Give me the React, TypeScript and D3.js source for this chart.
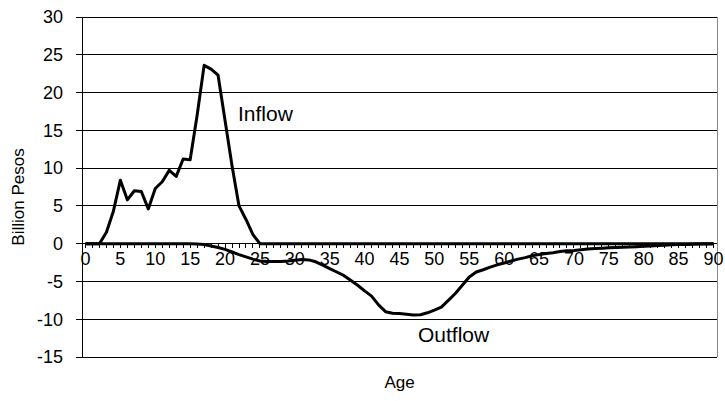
import React from "react";
import * as d3 from "d3";

const ages: number[] = d3.range(0, 91);

const inflow: number[] = [
  0, 0, 0, 1.5, 4.3, 8.4, 5.8, 7.0, 6.9, 4.6,
  7.3, 8.2, 9.7, 8.9, 11.2, 11.1, 17.0, 23.6, 23.1, 22.3,
  16.3, 10.3, 5.0, 3.2, 1.2, 0, 0, 0, 0, 0,
  0, 0, 0, 0, 0, 0, 0, 0, 0, 0,
  0, 0, 0, 0, 0, 0, 0, 0, 0, 0,
  0, 0, 0, 0, 0, 0, 0, 0, 0, 0,
  0, 0, 0, 0, 0, 0, 0, 0, 0, 0,
  0, 0, 0, 0, 0, 0, 0, 0, 0, 0,
  0, 0, 0, 0, 0, 0, 0, 0, 0, 0,
  0,
];

const outflow: number[] = [
  0, 0, 0, 0, 0, 0, 0, 0, 0, 0,
  0, 0, 0, 0, 0, 0, -0.05, -0.1, -0.3, -0.5,
  -0.75, -1.1, -1.45, -1.75, -2.05, -2.3, -2.35, -2.35, -2.35, -2.3,
  -2.2, -2.1, -2.15, -2.4, -2.85, -3.3, -3.75, -4.2, -4.85, -5.5,
  -6.25, -6.95, -8.1, -9.0, -9.2, -9.25, -9.35, -9.45, -9.4, -9.15,
  -8.8, -8.4, -7.5, -6.6, -5.5, -4.4, -3.75, -3.45, -3.1, -2.8,
  -2.55, -2.3, -2.05, -1.85, -1.6, -1.45, -1.3, -1.2, -1.05, -0.95,
  -0.9, -0.8, -0.7, -0.65, -0.6, -0.55, -0.5, -0.48, -0.45, -0.4,
  -0.35, -0.3, -0.25, -0.2, -0.15, -0.12, -0.1, -0.08, -0.05, -0.03,
  -0.02,
];

const yTicks: number[] = [-15, -10, -5, 0, 5, 10, 15, 20, 25, 30];
const xLabelAges: number[] = d3.range(0, 91, 5);

const W = 725;
const H = 401;
const left = 82;
const right = 717;
const top = 17;
const bottom = 357;
const FONT = "'Liberation Sans', Arial, sans-serif";

export default function App() {
  const x = d3.scalePoint<number>().domain(ages).range([left, right]).padding(0.5);
  const y = d3.scaleLinear().domain([-15, 30]).range([bottom, top]);
  const line = d3
    .line<number>()
    .x((_, i) => x(ages[i]) as number)
    .y((d) => y(d));
  const y0 = y(0);

  return (
    <svg
      width={W}
      height={H}
      style={{ position: "absolute", left: 0, top: 0 }}
      fontFamily={FONT}
    >
      <rect x={0} y={0} width={W} height={H} fill="#fff" />
      {yTicks.map((t) => (
        <line
          key={"g" + t}
          x1={left}
          x2={right}
          y1={y(t)}
          y2={y(t)}
          stroke="#000"
          strokeWidth={1}
          shapeRendering="crispEdges"
        />
      ))}
      <line x1={right} x2={right} y1={top} y2={bottom} stroke="#888" strokeWidth={1} shapeRendering="crispEdges" />
      <line x1={left} x2={left} y1={top} y2={bottom} stroke="#000" strokeWidth={1} shapeRendering="crispEdges" />
      {yTicks.map((t) => (
        <g key={"yt" + t}>
          <line x1={left - 6} x2={left} y1={y(t)} y2={y(t)} stroke="#000" shapeRendering="crispEdges" />
          <text x={left - 19} y={y(t)} dy="0.35em" textAnchor="end" fontSize={18} fill="#000">
            {t}
          </text>
        </g>
      ))}
      {ages.map((a) => (
        <line
          key={"xt" + a}
          x1={x(a)}
          x2={x(a)}
          y1={y0}
          y2={y0 + 4}
          stroke="#000"
          shapeRendering="crispEdges"
        />
      ))}
      {xLabelAges.map((a) => (
        <text key={"xl" + a} x={x(a)} y={y0 + 21} textAnchor="middle" fontSize={18} fill="#000">
          {a}
        </text>
      ))}
      <path d={line(outflow) || ""} fill="none" stroke="#000" strokeWidth={3} strokeLinejoin="round" />
      <path d={line(inflow) || ""} fill="none" stroke="#000" strokeWidth={3} strokeLinejoin="round" />
      <text x={238} y={121} fontSize={21} fill="#000">Inflow</text>
      <text x={418} y={342} fontSize={21} fill="#000">Outflow</text>
      <text x={(left + right) / 2} y={388} textAnchor="middle" fontSize={17} fill="#000">Age</text>
      <text
        transform={`translate(24, 197) rotate(-90)`}
        textAnchor="middle"
        fontSize={17}
        fill="#000"
      >
        Billion Pesos
      </text>
    </svg>
  );
}
